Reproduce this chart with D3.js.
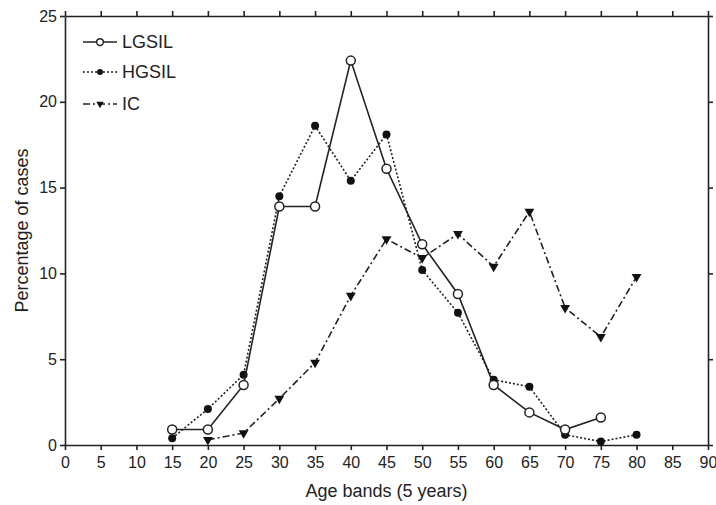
<!DOCTYPE html>
<html>
<head>
<meta charset="utf-8">
<script src="https://cdn.jsdelivr.net/npm/d3@7"></script>
<style>
  body { margin: 0; background: #fff; }
  svg { display: block; font-family: "Liberation Sans", Arial, sans-serif; }
  .axis path, .axis line { stroke: #222; stroke-width: 1.6px; }
  .axis text { fill: #222; font-size: 16px; }
</style>
</head>
<body>
<div id="graph"></div>
<script>
// age bands (x) for each series
var agesLgsil = [15, 20, 25, 30, 35, 40, 45, 50, 55, 60, 65, 70, 75];
var agesHgsil = [15, 20, 25, 30, 35, 40, 45, 50, 55, 60, 65, 70, 75, 80];
var agesIc = [20, 25, 30, 35, 40, 45, 50, 55, 60, 65, 70, 75, 80];

// percentage of cases
var lgsil = [0.9, 0.9, 3.5, 13.9, 13.9, 22.4, 16.1, 11.7, 8.8, 3.5, 1.9, 0.9, 1.6];
var hgsil = [0.4, 2.1, 4.1, 14.5, 18.6, 15.4, 18.1, 10.2, 7.7, 3.8, 3.4, 0.6, 0.2, 0.6];
var ic = [0.3, 0.7, 2.7, 4.8, 8.7, 12.0, 10.9, 12.3, 10.4, 13.6, 8.0, 6.3, 9.8];

var xTicks = d3.range(0, 91, 5);
var yTicks = [0, 5, 10, 15, 20, 25];
var seriesNames = ["LGSIL", "HGSIL", "IC"];

var width = 716, height = 505;
var margin = { top: 16, right: 8, bottom: 60, left: 65 };
var w = width - margin.left - margin.right;
var h = height - margin.top - margin.bottom;

var svg = d3.select("#graph").append("svg")
    .attr("width", width)
    .attr("height", height);

var g = svg.append("g")
    .attr("transform", "translate(" + margin.left + "," + margin.top + ")");

var x = d3.scaleLinear().domain([0, 90]).range([0, w]);
var y = d3.scaleLinear().domain([0, 25]).range([h, 0]);

// axes on all four sides, labels only bottom/left
g.append("g").attr("class", "axis")
    .attr("transform", "translate(0," + h + ")")
    .call(d3.axisBottom(x).tickValues(xTicks).tickSize(5).tickPadding(7).tickSizeOuter(0));
g.append("g").attr("class", "axis")
    .call(d3.axisLeft(y).tickValues(yTicks).tickSize(5).tickPadding(3).tickSizeOuter(0));
g.append("g").attr("class", "axis")
    .call(d3.axisTop(x).tickValues(xTicks).tickSize(5).tickFormat("").tickSizeOuter(0));
g.append("g").attr("class", "axis")
    .attr("transform", "translate(" + w + ",0)")
    .call(d3.axisRight(y).tickValues(yTicks).tickSize(5).tickFormat("").tickSizeOuter(0));

// axis titles
svg.append("text")
    .attr("x", margin.left + w / 2)
    .attr("y", 497)
    .attr("text-anchor", "middle")
    .style("font-size", "18px")
    .style("fill", "#222")
    .text("Age bands (5 years)");

svg.append("text")
    .attr("transform", "translate(28," + (margin.top + h / 2) + ") rotate(-90)")
    .attr("text-anchor", "middle")
    .style("font-size", "18px")
    .style("fill", "#222")
    .text("Percentage of cases");

var line = d3.line().x(d => x(d[0])).y(d => y(d[1]));

var styles = {
    LGSIL: { dash: null },
    HGSIL: { dash: "2,2" },
    IC: { dash: "7,3,2,3" }
};

// k scales the marker (legend markers are smaller)
function drawMarker(sel, name, k) {
    if (name === "LGSIL") {
        sel.append("circle").attr("r", 4.5 * k)
            .attr("fill", "#fff").attr("stroke", "#222").attr("stroke-width", 1.5);
    } else if (name === "HGSIL") {
        sel.append("circle").attr("r", 4 * k).attr("fill", "#111");
    } else {
        sel.append("path")
            .attr("d", d3.symbol().type(d3.symbolTriangle).size(42 * k * k))
            .attr("transform", "rotate(180)").attr("fill", "#111");
    }
}

var series = [
    { name: "IC", pts: d3.zip(agesIc, ic) },
    { name: "HGSIL", pts: d3.zip(agesHgsil, hgsil) },
    { name: "LGSIL", pts: d3.zip(agesLgsil, lgsil) }
];

series.forEach(function(s) {
    g.append("path")
        .datum(s.pts)
        .attr("d", line)
        .attr("fill", "none")
        .attr("stroke", "#222")
        .attr("stroke-width", 1.6)
        .attr("stroke-dasharray", styles[s.name].dash);

    g.append("g").selectAll("g")
        .data(s.pts).enter()
        .append("g")
        .attr("transform", d => "translate(" + x(d[0]) + "," + y(d[1]) + ")")
        .each(function() { drawMarker(d3.select(this), s.name, 1); });
});

// legend
var legY = [42, 72, 104];
var leg = svg.append("g").selectAll("g")
    .data(seriesNames).enter()
    .append("g")
    .attr("transform", (d, i) => "translate(83," + legY[i] + ")");

leg.append("line")
    .attr("x1", 0).attr("x2", 34)
    .attr("stroke", "#222").attr("stroke-width", 1.6)
    .attr("stroke-dasharray", d => styles[d].dash);

leg.append("g")
    .attr("transform", "translate(17,0)")
    .each(function(d) { drawMarker(d3.select(this), d, 0.75); });

leg.append("text")
    .attr("x", 39)
    .attr("dy", "0.36em")
    .style("font-size", "18px")
    .style("fill", "#222")
    .text(d => d);
</script>
</body>
</html>
